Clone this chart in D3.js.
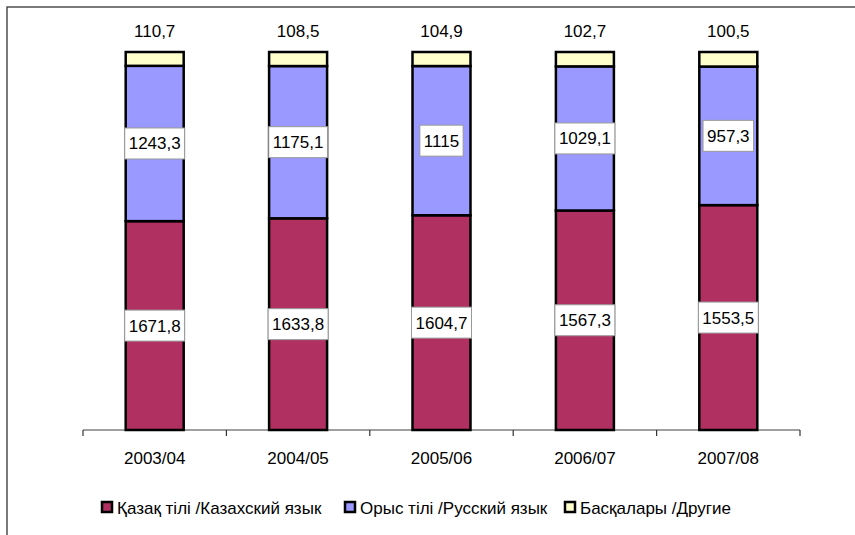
<!DOCTYPE html>
<html>
<head>
<meta charset="utf-8">
<script src="https://cdn.jsdelivr.net/npm/d3@7"></script>
<style>
  html, body { margin: 0; padding: 0; background: #fff; }
  svg { display: block; font-family: "Liberation Sans", Arial, sans-serif; }
</style>
</head>
<body>
<svg id="chart" width="855" height="535"></svg>
<script>
const years = ["2003/04", "2004/05", "2005/06", "2006/07", "2007/08"];
const kazakh = [1671.8, 1633.8, 1604.7, 1567.3, 1553.5];
const russian = [1243.3, 1175.1, 1115, 1029.1, 957.3];
const others = [110.7, 108.5, 104.9, 102.7, 100.5];
const seriesNames = ["Қазақ тілі /Казахский язык", "Орыс тілі /Русский язык", "Басқалары /Другие"];
const seriesKeys = ["kazakh", "russian", "others"];
const colors = ["#B03062", "#9999FF", "#FFFFCC"];

const rows = years.map((y, i) => ({ year: y, kazakh: kazakh[i], russian: russian[i], others: others[i] }));
const fmt = v => String(v).replace(".", ",");
const FS = 17;

const svg = d3.select("#chart");

// outer frame (cropped on right/bottom)
svg.append("rect").attr("x", 7).attr("y", 7).attr("width", 900).attr("height", 600)
  .attr("fill", "none").attr("stroke", "#333").attr("stroke-width", 1.3);

const x = d3.scaleBand().domain(years).range([83, 800]).paddingInner(0).paddingOuter(0);
const y = d3.scaleLinear().domain([0, 1]).range([430, 52]);
const barW = 58;

const stack = d3.stack().keys(seriesKeys).offset(d3.stackOffsetExpand);
const layers = stack(rows);

// axis
const axisG = svg.append("g").attr("transform", "translate(0,430)");
axisG.append("line").attr("x1", 83).attr("x2", 800).attr("y1", 0).attr("y2", 0)
  .attr("stroke", "#808080").attr("stroke-width", 1.5);
const bounds = years.map(d => x(d)).concat([x(years[years.length - 1]) + x.bandwidth()]);
axisG.selectAll("line.tick").data(bounds).enter().append("line")
  .attr("x1", d => d).attr("x2", d => d).attr("y1", 0).attr("y2", 6)
  .attr("stroke", "#333").attr("stroke-width", 1.2);
axisG.selectAll("text.lab").data(years).enter().append("text")
  .attr("x", d => x(d) + x.bandwidth() / 2).attr("y", 34)
  .attr("text-anchor", "middle").attr("font-size", FS).attr("fill", "#000")
  .text(d => d);

// bars
layers.forEach((layer, li) => {
  svg.append("g").selectAll("rect").data(layer).enter().append("rect")
    .attr("x", d => x(d.data.year) + x.bandwidth() / 2 - barW / 2)
    .attr("width", barW)
    .attr("y", d => y(d[1]))
    .attr("height", d => y(d[0]) - y(d[1]))
    .attr("fill", colors[li])
    .attr("stroke", "#000").attr("stroke-width", 2.5);
});

// boxed labels for kazakh and russian
[0, 1].forEach(li => {
  const layer = layers[li];
  const g = svg.append("g");
  layer.forEach(d => {
    const cx = x(d.data.year) + x.bandwidth() / 2;
    const cy = (y(d[0]) + y(d[1])) / 2;
    const lg = g.append("g");
    const rect = lg.append("rect");
    const t = lg.append("text").attr("x", cx).attr("y", cy + 6)
      .attr("text-anchor", "middle").attr("font-size", FS).attr("fill", "#000")
      .text(fmt(d.data[seriesKeys[li]]));
    const w = t.node().getComputedTextLength() + 8;
    rect.attr("x", cx - w / 2).attr("y", cy - 15.5).attr("width", w).attr("height", 31)
      .attr("fill", "#fff").attr("stroke", "#999").attr("stroke-width", 1);
  });
});

// labels above bars for others
svg.append("g").selectAll("text").data(layers[2]).enter().append("text")
  .attr("x", d => x(d.data.year) + x.bandwidth() / 2)
  .attr("y", d => y(d[1]) - 15)
  .attr("text-anchor", "middle").attr("font-size", FS).attr("fill", "#000")
  .text(d => fmt(d.data.others));

// legend
const legendX = [101, 344, 564];
const lg = svg.append("g");
seriesNames.forEach((name, i) => {
  lg.append("rect").attr("x", legendX[i] + 1).attr("y", 502).attr("width", 10).attr("height", 10)
    .attr("fill", colors[i]).attr("stroke", "#000").attr("stroke-width", 2.5);
  lg.append("text").attr("x", legendX[i] + 16).attr("y", 514)
    .attr("font-size", FS).attr("fill", "#000").text(name);
});
</script>
</body>
</html>
